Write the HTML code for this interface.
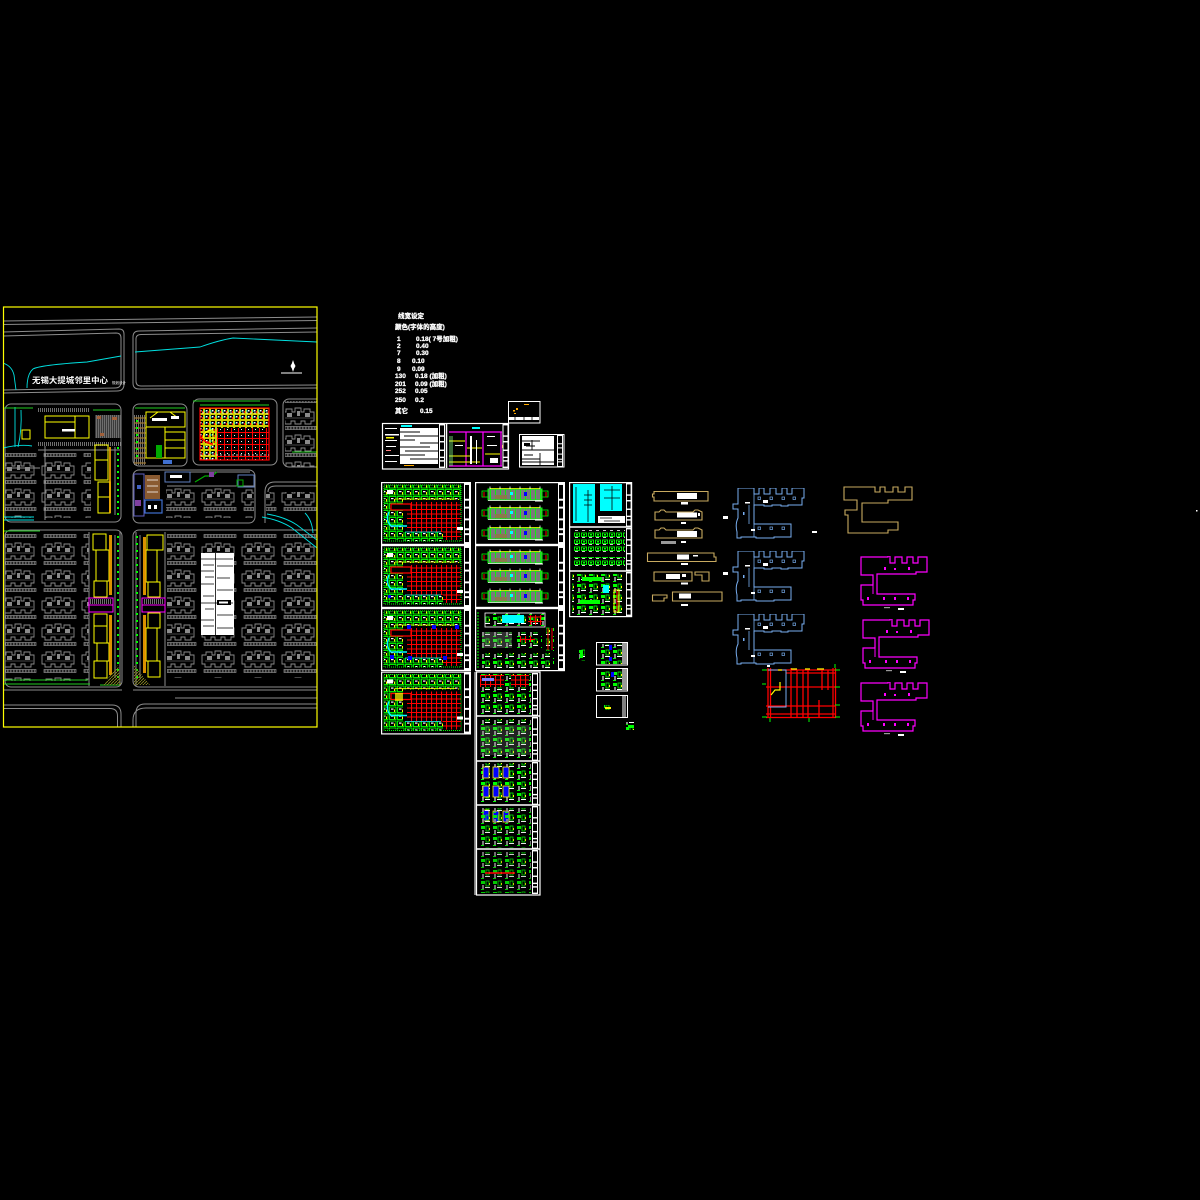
<!DOCTYPE html>
<html><head><meta charset="utf-8"><style>
html,body{margin:0;padding:0;background:#000;}
svg{display:block}
text{font-family:"Liberation Sans","Noto Sans CJK SC",sans-serif;}
</style></head><body>
<svg width="1200" height="1200" viewBox="0 0 1200 1200" xmlns="http://www.w3.org/2000/svg">
<defs>
<pattern id="bld" width="40" height="27" patternUnits="userSpaceOnUse">
 <path d="M2,7 h4 v-3 h6 v3 h3 v-4 h6 v4 h3 v-3 h6 v3 h4 v9 h-3 v3 h-6 v-3 h-4 v3 h-6 v-3 h-4 v3 h-6 v-3 h-3 z" fill="none" stroke="#8a8a8a" stroke-width="0.9"/>
 <rect x="7" y="8" width="5" height="4" fill="#8a8a8a"/>
 <rect x="17" y="6" width="3" height="5" fill="#8a8a8a"/>
 <rect x="25" y="8" width="5" height="4" fill="#8a8a8a"/>
 <line x1="5" y1="13" x2="33" y2="13" stroke="#8a8a8a" stroke-width="0.6"/>
 <rect x="4" y="21.5" width="32" height="3" fill="none" stroke="#8a8a8a" stroke-width="0.7"/>
 <line x1="4" y1="23" x2="36" y2="23" stroke="#8a8a8a" stroke-width="3" stroke-dasharray="0.7 0.8"/>
</pattern>
<pattern id="rooms" width="8" height="7" patternUnits="userSpaceOnUse">
 <rect x="0.5" y="0.5" width="6.5" height="5.5" fill="none" stroke="#00ff00" stroke-width="0.9"/>
 <rect x="2" y="2" width="2.5" height="1.2" fill="#ffffff"/>
 <rect x="5" y="3" width="1" height="2.5" fill="#ffff00"/>
</pattern>
<pattern id="redgrid" width="5" height="4.5" patternUnits="userSpaceOnUse">
 <path d="M0,0.5 H5 M0.5,0 V4.5" stroke="#ff0000" stroke-width="1.1"/>
</pattern>
<pattern id="vstripe" width="5" height="20" patternUnits="userSpaceOnUse">
 <rect x="0" y="0" width="0.9" height="20" fill="#00ff00"/>
</pattern>
<pattern id="detail" width="12" height="11" patternUnits="userSpaceOnUse">
 <rect x="1" y="1" width="4" height="3" fill="#00ff00"/>
 <rect x="6" y="1" width="3" height="5" fill="none" stroke="#00ff00" stroke-width="0.8"/>
 <rect x="2" y="5" width="2" height="4" fill="#8a8a8a"/>
 <rect x="5" y="7" width="5" height="1" fill="#ffffff"/>
 <rect x="9" y="3" width="1" height="2" fill="#ffff00"/>
 <rect x="1" y="9" width="3" height="1" fill="#00ff00"/>
</pattern>
<pattern id="mix" width="6" height="6" patternUnits="userSpaceOnUse">
 <rect x="0.5" y="0.5" width="5" height="5" fill="none" stroke="#ffff00" stroke-width="0.8"/>
 <rect x="2" y="2" width="1.5" height="1.5" fill="#fff"/>
 <path d="M0,3 H2" stroke="#00ffff" stroke-width="0.8"/>
 <rect x="4" y="3" width="1" height="2" fill="#ff0000"/>
</pattern>
<pattern id="colorful" width="7" height="6" patternUnits="userSpaceOnUse">
 <path d="M0,0.5 H7 M0.5,0 V6" stroke="#ff0000" stroke-width="1"/>
 <rect x="3" y="3" width="1" height="1" fill="#fff"/>
</pattern>
<pattern id="grnrow" width="7" height="7" patternUnits="userSpaceOnUse">
 <rect x="0.5" y="1" width="5" height="3.5" fill="none" stroke="#00ff00" stroke-width="0.9"/>
 <rect x="2" y="2" width="2" height="1.5" fill="#00ff00"/>
 <rect x="1" y="5" width="3" height="0.8" fill="#fff"/>
</pattern>
<pattern id="hatchg" width="2" height="4" patternUnits="userSpaceOnUse">
 <rect x="0" y="0" width="0.8" height="4" fill="#8a8a8a"/>
</pattern>
<pattern id="olive" width="3" height="3" patternUnits="userSpaceOnUse">
 <path d="M0,3 L3,0" stroke="#8a8a20" stroke-width="0.9"/>
</pattern>
<symbol id="ts" viewBox="0 0 6 62" preserveAspectRatio="none">
 <rect width="6" height="62" fill="#fff"/>
 <rect x="1" y="2" width="4" height="14" fill="#000"/>
 <rect x="1" y="18" width="4" height="6" fill="#000"/>
 <rect x="1" y="26" width="4" height="10" fill="#000"/>
 <rect x="1" y="38" width="4" height="8" fill="#000"/>
 <rect x="1" y="48" width="4" height="3" fill="#000"/>
 <rect x="1" y="53" width="4" height="7" fill="#000"/>
</symbol>
<symbol id="ps" viewBox="0 0 90 63">
 <rect x="0.6" y="0.6" width="88.8" height="61.8" fill="#000" stroke="#fff" stroke-width="1.2"/>
 <use href="#ts" x="83" y="1" width="6" height="61"/>
 <rect x="3" y="3" width="77" height="15" fill="url(#rooms)"/>
 <rect x="3" y="18" width="19" height="40" fill="url(#rooms)"/>
 <rect x="22" y="50" width="40" height="9" fill="url(#rooms)"/>
 <rect x="3" y="3" width="77" height="56" fill="none" stroke="#00ff00" stroke-width="1" stroke-dasharray="1 1"/>
 <rect x="26" y="20" width="54" height="30" fill="url(#redgrid)"/>
 <rect x="62" y="50" width="18" height="8" fill="url(#redgrid)"/>
 <path d="M10,22 H30 V28 H10 Z" fill="#000" stroke="#ff0000" stroke-width="1.2"/>
 <path d="M8,30 Q4,38 10,44 H26" fill="none" stroke="#00ffff" stroke-width="1.5"/>
 <path d="M14,17 H75" stroke="#ffff00" stroke-width="0.8"/>
 <path d="M24,50 H60" stroke="#00ffff" stroke-width="0.8"/>
 <rect x="6" y="8" width="6" height="4" fill="#fff"/>
 <rect x="76" y="45" width="6" height="3" fill="#fff"/>
</symbol>
<symbol id="elev" viewBox="0 0 70 16">
 <rect x="8" y="3" width="54" height="11" fill="#7a7a7a"/>
 <rect x="8" y="3" width="54" height="11" fill="url(#vstripe)"/>
 <rect x="8" y="3" width="54" height="11" fill="none" stroke="#00ff00" stroke-width="1"/>
 <path d="M10,2.5 H60" stroke="#ffff00" stroke-width="0.8"/>
 <path d="M10,0.5 V3 M20,0.5 V3 M30,0.5 V3 M40,0.5 V3 M50,0.5 V3 M60,0.5 V3" stroke="#fff" stroke-width="0.8"/>
 <rect x="2" y="5" width="6" height="6" fill="none" stroke="#00ff00" stroke-width="0.8"/>
 <rect x="62" y="5" width="6" height="6" fill="none" stroke="#00ff00" stroke-width="0.8"/>
 <path d="M4,6 V11 M66,6 V11" stroke="#ff0000" stroke-width="1"/>
 <rect x="15" y="9" width="12" height="4" fill="#8b7a4a"/>
 <rect x="30" y="6" width="3" height="3" fill="#00ffff"/>
 <rect x="44" y="6" width="3" height="4" fill="#0000ff"/>
 <path d="M8,14.5 H62" stroke="#fff" stroke-width="0.8"/>
 <rect x="55" y="14.5" width="8" height="1" fill="#fff"/>
</symbol>
<symbol id="es" viewBox="0 0 90 63">
 <rect x="0.6" y="0.6" width="88.8" height="61.8" fill="#000" stroke="#fff" stroke-width="1.2"/>
 <use href="#ts" x="83" y="1" width="6" height="61"/>
 <use href="#elev" x="5" y="4" width="70" height="16"/>
 <use href="#elev" x="5" y="23" width="70" height="16"/>
 <use href="#elev" x="5" y="43" width="70" height="16"/>
</symbol>
<symbol id="blue" viewBox="-4 0 74 52">
 <path d="M2,0 H18 V6 H23 V0 H28 V6 H34 V0 H40 V6 H46 V0 H51 V6 H56 V0 H68 V10 H66 V17 H52 V18 H45 V17 H36 V18 H28 V17 H18 V36 H55 V49 H38 V50 H20 V49 H5 V50 H1 V44 Q-1,36 2,30 V21 H-3 V16 H2 Z" fill="none" stroke="#78aef0" stroke-width="1"/>
 <path d="M18,0 V49 M13,17 V36" stroke="#78aef0" stroke-width="0.8"/>
 <g fill="none" stroke="#78aef0" stroke-width="0.7">
  <rect x="22" y="9" width="2.5" height="2.5"/><rect x="34" y="9" width="2.5" height="2.5"/><rect x="46" y="9" width="2.5" height="2.5"/><rect x="57" y="9" width="2.5" height="2.5"/>
  <rect x="22" y="39" width="2.5" height="2.5"/><rect x="34" y="39" width="2.5" height="2.5"/><rect x="46" y="39" width="2.5" height="2.5"/>
 </g>
 <rect x="7" y="24" width="1.5" height="3" fill="#78aef0"/>
 <rect x="27" y="12" width="5" height="3" fill="#fff"/>
 <rect x="9" y="14" width="5" height="1.5" fill="#fff"/>
 <rect x="15" y="41" width="4" height="2" fill="#fff"/>
</symbol>
<symbol id="mag" viewBox="0 0 70 55">
 <path d="M1,1 H28 V0 H30 V7 H35 V1 H42 V7 H47 V1 H53 V7 H58 V1 H67 V16 H56 V18 H17 V38 H55 V44 H53 V49 H3 V44 H1 V29 H13 V19 H1 Z" fill="none" stroke="#ff00ff" stroke-width="1.2"/>
 <path d="M13,19 V38" stroke="#ff00ff" stroke-width="1"/>
 <g fill="#ff00ff"><rect x="24" y="11" width="2" height="3"/><rect x="34" y="12" width="2" height="2"/><rect x="48" y="11" width="2" height="3"/>
 <rect x="7" y="41" width="2" height="3"/><rect x="23" y="41" width="2" height="3"/><rect x="34" y="41" width="2" height="3"/><rect x="47" y="41" width="2" height="3"/></g>
 <rect x="38" y="52" width="6" height="2" fill="#fff"/>
 <rect x="24" y="51" width="6" height="1.2" fill="#999"/>
</symbol>
<clipPath id="siteclip"><rect x="3" y="307" width="314" height="420"/></clipPath>
</defs>

<rect width="1200" height="1200" fill="#000"/>

<!-- ================= SITE PLAN ================= -->
<g clip-path="url(#siteclip)">
 <rect x="5" y="452" width="86" height="66" fill="url(#bld)"/>
 <rect x="5" y="533" width="84" height="148" fill="url(#bld)"/>
 <rect x="167" y="533" width="150" height="145" fill="url(#bld)"/>
 <rect x="285" y="401" width="32" height="66" fill="url(#bld)"/>
 <rect x="166" y="487" width="88" height="31" fill="url(#bld)"/>
 <rect x="266" y="492" width="51" height="22" fill="url(#bld)"/>
 <rect x="38" y="408" width="52" height="4" fill="url(#hatchg)"/>
 <rect x="38" y="442" width="84" height="4" fill="url(#hatchg)"/>

 <g fill="none" stroke="#8c8c8c" stroke-width="1">
  <path d="M3,321 L317,317"/>
  <path d="M3,324.5 L317,320.5"/>
  <path d="M3,332 L119,329 Q124,329 124,334 V384 Q124,391 117,391 L3,393"/>
  <path d="M3,336 L116,333 Q121,333 121,338 V382 Q121,388 115,388 L3,390"/>
  <path d="M317,328 L139,331 Q133,331 133,337 V383 Q133,389 139,389 L317,388"/>
  <path d="M317,332 L141,334.5 Q136,334.5 136,339 V381 Q136,386 141,386 L317,385"/>
  <rect x="5" y="404" width="116" height="118" rx="6"/>
  <rect x="133" y="404" width="54" height="62" rx="6"/>
  <rect x="193" y="399" width="84" height="66" rx="6"/>
  <rect x="283" y="399" width="44" height="68" rx="6"/>
  <rect x="133" y="470" width="122" height="53" rx="6"/>
  <path d="M265,523 V492 Q265,482 275,482 H317"/>
  <path d="M268,492 Q268,486 276,486 H317"/>
  <rect x="5" y="530" width="117" height="157" rx="6"/>
  <rect x="133" y="530" width="190" height="157" rx="6"/>
  <path d="M89,532 V686 M120,532 V686 M165,532 V686 M136,532 V686"/>
  <path d="M3,690 H122 M133,690 H317"/>
  <path d="M175,698 H317"/>
  <path d="M3,705 H112 Q121,705 121,714 V727"/>
  <path d="M3,708.5 H110 Q117.5,708.5 117.5,716 V727"/>
  <path d="M317,704 H145 Q136,704 136,713 V727"/>
  <path d="M317,708 H146 Q133,708 133,720 V727"/>
  <path d="M38,450 H120 M5,468 H40 M45,446 V520"/>
  <path d="M185,472 H250 M167,486 H255"/>
 </g>

 <g fill="none" stroke="#00e0e0" stroke-width="0.9">
  <path d="M3,363 Q12,366 14,375 L16,390"/>
  <path d="M27,388 Q27,374 33,369 Q40,365 87,362 L121,356"/>
  <path d="M135,352 L200,347 Q220,340 233,338 L317,342"/>
  <path d="M15,407 V447 M21,410 Q22,430 18,447"/>
  <path d="M3,448 Q20,444 32,446"/>
  <path d="M3,517 H34 M3,520 H34"/>
  <path d="M262,517 Q280,520 292,528 L317,548"/>
  <path d="M267,514 Q285,517 297,525 L317,540"/>
  <path d="M305,513 Q312,520 313,533"/>
 </g>
 <g fill="none" stroke="#22cc22" stroke-width="0.9">
  <path d="M3,408 H33 M93,410 H120 M135,408 H185 M193,401 H260 M200,405 H269"/>
  <path d="M3,680 H88 M3,684 H90 M100,685 H120"/>
  <path d="M3,531 H40 M292,452 H317"/>
 </g>

 <g fill="none" stroke="#ffff00" stroke-width="1">
  <rect x="45" y="416" width="44" height="22"/>
  <path d="M75,416 V438 M45,422 H75"/>
  <rect x="22" y="430" width="8" height="9"/>
 </g>
 <rect x="62" y="429" width="13" height="2.5" fill="#fff"/>
 <rect x="95" y="415" width="26" height="23" fill="#3a3a3a"/>
 <rect x="95" y="415" width="26" height="23" fill="url(#hatchg)" opacity="0.8"/>
 <rect x="97" y="416" width="4" height="3" fill="#a0603a"/>
 <rect x="112" y="417" width="5" height="3" fill="#a0603a"/>
 <rect x="100" y="433" width="4" height="3" fill="#a0603a"/>

 <g fill="none" stroke="#ffff00" stroke-width="1">
  <rect x="95" y="445" width="13" height="35"/>
  <rect x="98" y="482" width="12" height="31"/>
  <path d="M95,460 H108 M98,497 H110"/>
 </g>
 <rect x="109" y="447" width="2" height="66" fill="#ffaa00" opacity="0.8"/>
 <path d="M118,447 V515" stroke="#00ff00" stroke-width="2" stroke-dasharray="2 4"/>
 <path d="M115,447 V515" stroke="#8c8c8c" stroke-width="1"/>

 <rect x="133" y="415" width="12" height="50" fill="url(#hatchg)"/>
 <path d="M134,418 H146 M134,423 H146 M134,428 H146 M134,433 H146 M134,438 H146 M134,443 H146 M134,448 H146 M134,453 H146 M134,458 H146 M134,463 H146" stroke="#a07830" stroke-width="1.2"/>
 <g fill="none" stroke="#ffff00" stroke-width="1">
  <rect x="146" y="412" width="39" height="15"/>
  <rect x="146" y="427" width="19" height="31"/>
  <rect x="165" y="432" width="20" height="26"/>
  <path d="M150,418 L158,412 L170,412 L178,418 M165,440 H185 M165,448 H185"/>
 </g>
 <rect x="152" y="418" width="15" height="3" fill="#fff"/>
 <rect x="171" y="416" width="8" height="3" fill="#fff"/>
 <rect x="156" y="445" width="6" height="13" fill="#00aa00"/>
 <rect x="163" y="460" width="9" height="4" fill="#4070d0"/>
 <path d="M137,420 V462" stroke="#00ff00" stroke-width="2" stroke-dasharray="2 5"/>

 <rect x="200" y="408" width="69" height="20" fill="url(#mix)"/>
 <rect x="200" y="428" width="17" height="32" fill="url(#mix)"/>
 <rect x="217" y="428" width="52" height="32" fill="url(#colorful)"/>
 <rect x="200" y="408" width="69" height="52" fill="none" stroke="#ff0000" stroke-width="1.2"/>
 <path d="M203,440 Q203,430 213,430 V445 H205" fill="none" stroke="#ffff00" stroke-width="1.2"/>
 <path d="M200,455 H269 M202,413 H268" stroke="#fff" stroke-width="0.8" stroke-dasharray="2 2"/>
 <path d="M200,436 Q206,444 213,444" fill="none" stroke="#ff0000" stroke-width="1.6"/>

 <rect x="145" y="475" width="15" height="24" fill="#8a5a30"/>
 <path d="M147,480 H158 M147,486 H158 M147,492 H158" stroke="#fff" stroke-width="0.8"/>
 <rect x="134" y="474" width="10" height="42" fill="none" stroke="#6060c0" stroke-width="1"/>
 <rect x="135" y="500" width="6" height="6" fill="#8040a0"/>
 <rect x="137" y="485" width="4" height="4" fill="#4060c0"/>
 <rect x="145" y="500" width="17" height="13" fill="none" stroke="#4070d0" stroke-width="1.2"/>
 <rect x="148" y="505" width="3" height="4" fill="#fff"/><rect x="154" y="505" width="3" height="4" fill="#fff"/>
 <rect x="165" y="472" width="25" height="10" fill="none" stroke="#6080c0" stroke-width="1"/>
 <rect x="170" y="475" width="12" height="3" fill="#fff"/>
 <path d="M195,482 L205,476 L212,476 L217,472" fill="none" stroke="#00aa00" stroke-width="1.2"/>
 <rect x="209" y="472" width="5" height="5" fill="#8040a0"/>
 <rect x="238" y="475" width="16" height="12" fill="none" stroke="#6080c0" stroke-width="1"/>
 <rect x="237" y="480" width="6" height="6" fill="none" stroke="#00aa00" stroke-width="1"/>

 <g fill="none" stroke="#ffff00" stroke-width="1">
  <rect x="93" y="534" width="13" height="16"/>
  <rect x="96" y="550" width="13" height="31"/>
  <rect x="94" y="581" width="13" height="16"/>
  <rect x="94" y="614" width="13" height="12"/>
  <rect x="94" y="626" width="13" height="17"/>
  <rect x="97" y="643" width="12" height="18"/>
  <rect x="94" y="661" width="13" height="17"/>
 </g>
 <rect x="109" y="535" width="3" height="60" fill="#ffaa00" opacity="0.85"/>
 <rect x="109" y="615" width="3" height="60" fill="#ffaa00" opacity="0.85"/>
 <path d="M118,536 V678" stroke="#00ff00" stroke-width="2" stroke-dasharray="2 5"/>
 <path d="M115,535 V678" stroke="#8c8c8c" stroke-width="1"/>
 <g fill="none" stroke="#ffff00" stroke-width="1">
  <rect x="147" y="535" width="16" height="15"/>
  <rect x="146" y="550" width="11" height="32"/>
  <rect x="148" y="582" width="12" height="15"/>
  <rect x="148" y="613" width="12" height="15"/>
  <rect x="146" y="628" width="11" height="33"/>
  <rect x="148" y="661" width="12" height="16"/>
 </g>
 <rect x="143" y="537" width="3" height="58" fill="#ffaa00" opacity="0.85"/>
 <rect x="143" y="615" width="3" height="58" fill="#ffaa00" opacity="0.85"/>
 <path d="M137,536 V678" stroke="#00ff00" stroke-width="2" stroke-dasharray="2 5"/>
 <path d="M140,535 V678" stroke="#8c8c8c" stroke-width="1"/>
 <g fill="none" stroke="#ff00ff" stroke-width="1">
  <rect x="89" y="598" width="24" height="14"/>
  <path d="M89,605 H113"/>
  <rect x="142" y="598" width="23" height="14"/>
  <path d="M142,605 H165"/>
 </g>
 <rect x="90" y="599" width="22" height="5" fill="url(#hatchg)"/>
 <rect x="143" y="599" width="21" height="5" fill="url(#hatchg)"/>
 <path d="M103,685 L118,665 L121,685 Z" fill="url(#olive)"/>
 <path d="M134,665 L150,685 L134,685 Z" fill="url(#olive)"/>

 <rect x="201" y="553" width="33" height="82" fill="#fff"/>
 <g stroke="#000" stroke-width="0.8">
  <path d="M215.5,553 V635"/>
  <path d="M201,559 H233 M203,565 H214 M217,566 H233 M201,571 H214 M205,577 H214 M217,578 H230 M201,584 H214 M217,590 H233 M203,596 H214 M201,603 H233 M205,609 H214 M217,615 H233 M201,620 H214 M203,626 H214 M217,628 H233"/>
 </g>
 <rect x="217" y="600" width="14" height="5" fill="#000"/>
 <rect x="219" y="601.5" width="9" height="2" fill="#fff"/>

 <text x="32" y="383" font-size="8" font-weight="bold" fill="#fff" textLength="76" lengthAdjust="spacingAndGlyphs">无锡大提城邻里中心</text>
 <text x="112" y="384" font-size="3.5" fill="#fff">规划设计</text>
 <path d="M293,360 L295,366 L293,372 L291,366 Z" fill="#fff"/>
 <circle cx="293" cy="366" r="2" fill="none" stroke="#fff" stroke-width="0.7"/>
 <path d="M281,373 H302" stroke="#fff" stroke-width="1"/>
</g>
<rect x="3.5" y="307" width="313.5" height="420" fill="none" stroke="#ffff00" stroke-width="1.2"/>

<!-- ================= TEXT BLOCK ================= -->
<g fill="#fff" font-size="6.5" font-weight="bold" stroke="#fff" stroke-width="0.3">
 <text x="398" y="318">线宽设定</text>
 <text x="395" y="329">颜色(字体的高度)</text>
 <text x="397" y="341">1</text><text x="416" y="341">0.18( 7号加粗)</text>
 <text x="397" y="348">2</text><text x="416" y="348">0.40</text>
 <text x="397" y="355">7</text><text x="416" y="355">0.30</text>
 <text x="397" y="363">8</text><text x="412" y="363">0.10</text>
 <text x="397" y="371">9</text><text x="412" y="371">0.09</text>
 <text x="395" y="378">130</text><text x="415" y="378">0.18 (加粗)</text>
 <text x="395" y="386">201</text><text x="415" y="386">0.09 (加粗)</text>
 <text x="395" y="393">252</text><text x="415" y="393">0.05</text>
 <text x="395" y="402">250</text><text x="415" y="402">0.2</text>
 <text x="395" y="413">其它</text><text x="420" y="413">0.15</text>
</g>

<!-- ================= TOP SHEETS ================= -->
<rect x="508.5" y="401.5" width="31.5" height="21.5" fill="#000" stroke="#fff" stroke-width="1"/>
<rect x="513" y="410" width="2" height="1.5" fill="#ffaa00"/>
<rect x="516" y="408" width="2" height="2" fill="#ffaa00"/>
<rect x="524" y="404" width="5" height="1" fill="#ffaa00"/>
<rect x="514" y="413" width="2" height="1" fill="#ffaa00"/>
<rect x="509" y="417" width="30" height="3" fill="#fff"/>
<path d="M515,417 V420 M524,417 V420 M532,417 V420" stroke="#000" stroke-width="0.8"/>

<rect x="382.5" y="423.5" width="126" height="45.5" fill="#000" stroke="#fff" stroke-width="1.2"/>
<rect x="400" y="428" width="38" height="36" fill="#fff"/>
<g stroke="#000" stroke-width="0.9">
 <path d="M400,432 H420 M404,436 H438 M400,440 H415 M420,443 H438 M400,447 H430 M405,451 H438 M400,455 H425 M410,459 H438"/>
</g>
<rect x="401" y="425" width="11" height="2" fill="#00ffff"/>
<g fill="#fff"><rect x="385" y="428" width="12" height="1"/><rect x="385" y="434" width="14" height="1.5"/><rect x="385" y="440" width="12" height="1"/><rect x="386" y="446" width="10" height="1"/><rect x="385" y="455" width="14" height="1"/><rect x="385" y="461" width="12" height="1"/></g>
<rect x="386" y="437" width="8" height="1.5" fill="#ffff00"/>
<rect x="386" y="450" width="5" height="1" fill="#ff8080"/>
<rect x="404" y="465" width="10" height="1" fill="#ffaa00"/>
<use href="#ts" x="439" y="424" width="6" height="44"/>
<path d="M446.5,424 V468" stroke="#fff" stroke-width="1.5"/>
<g stroke="#ff00ff" stroke-width="1.2" fill="none">
 <path d="M449,432 H502 M466,432 V466 M483,432 V466 M501,432 V466 M449,466 H502"/>
</g>
<g stroke="#ffff00" stroke-width="1">
 <path d="M449,441 H465 M467,448 H482 M449,456 H470 M485,454 H500 M449,462 H480"/>
</g>
<path d="M450,436 V466 M452,436 V466" stroke="#88ff88" stroke-width="0.8"/>
<g fill="#fff"><rect x="470" y="436" width="2" height="28"/><rect x="476" y="440" width="1" height="24"/><rect x="487" y="436" width="8" height="1"/><rect x="487" y="445" width="10" height="1"/><rect x="490" y="458" width="8" height="5"/><rect x="455" y="445" width="8" height="1"/></g>
<rect x="472" y="427" width="8" height="2" fill="#00ffff"/>
<rect x="502" y="445" width="3" height="3" fill="#ffaa00"/>
<use href="#ts" x="502.5" y="424" width="6" height="44"/>

<rect x="519.5" y="434.5" width="44.5" height="32.5" fill="#000" stroke="#fff" stroke-width="1"/>
<rect x="522" y="436" width="32" height="29" fill="#fff"/>
<g stroke="#000" stroke-width="0.9"><path d="M522,441 H540 M526,446 H535 M522,450 H554 M524,455 H533 M522,459 H540 M532,440 V450 M540,453 V465 M522,462 H554"/></g>
<rect x="524" y="443" width="6" height="3" fill="#000"/>
<use href="#ts" x="557" y="435" width="6" height="32"/>

<!-- ================= COLUMN 1 ================= -->
<use href="#ps" x="381" y="482" width="90" height="63"/>
<use href="#ps" x="381" y="545" width="90" height="63"/>
<use href="#ps" x="381" y="608" width="90" height="63"/>
<use href="#ps" x="381" y="671" width="90" height="64"/>
<g fill="#0000ff">
 <rect x="407" y="625" width="4" height="4"/><rect x="432" y="625" width="4" height="4"/><rect x="455" y="625" width="4" height="4"/>
 <rect x="390" y="655" width="4" height="4"/><rect x="408" y="656" width="4" height="4"/><rect x="443" y="656" width="4" height="4"/>
 <rect x="388" y="595" width="3" height="3"/>
</g>
<rect x="395" y="693" width="8" height="8" fill="#ffff00" opacity="0.7"/>

<!-- ================= COLUMN 2 ================= -->
<use href="#es" x="475" y="482" width="90" height="63"/>
<use href="#es" x="475" y="545" width="90" height="63"/>
<rect x="475.6" y="608.6" width="88.8" height="62" fill="#000" stroke="#fff" stroke-width="1.2"/>
<use href="#ts" x="558" y="609" width="6" height="61"/>
<rect x="485" y="613" width="60" height="14" fill="url(#detail)"/>
<rect x="502" y="615" width="22" height="8" fill="#00ffff"/>
<rect x="485" y="613" width="60" height="14" fill="none" stroke="#fff" stroke-width="0.8"/>
<rect x="528" y="615" width="14" height="10" fill="url(#redgrid)"/>
<rect x="482" y="632" width="30" height="16" fill="url(#detail)"/>
<rect x="482" y="632" width="30" height="16" fill="#8a8a8a" opacity="0.35"/>
<rect x="515" y="632" width="27" height="16" fill="url(#detail)"/>
<rect x="520" y="636" width="15" height="6" fill="url(#redgrid)"/>
<rect x="546" y="627" width="8" height="24" fill="url(#detail)"/>
<path d="M548,628 V650 M552,628 V650" stroke="#ff0000" stroke-width="1"/>
<rect x="482" y="653" width="72" height="15" fill="url(#detail)"/>
<path d="M478,612 V668" stroke="#00ff00" stroke-width="1" stroke-dasharray="2 1"/>
<rect x="476.5" y="672" width="63.5" height="223" fill="#000" stroke="#fff" stroke-width="1.2"/>
<path d="M476,716 H540 M476,761 H540 M476,805 H540 M476,849 H540" stroke="#fff" stroke-width="1.5"/>
<use href="#ts" x="532" y="673" width="6" height="43"/>
<use href="#ts" x="532" y="717" width="6" height="44"/>
<use href="#ts" x="532" y="762" width="6" height="43"/>
<use href="#ts" x="532" y="806" width="6" height="43"/>
<use href="#ts" x="532" y="850" width="6" height="44"/>
<rect x="479" y="674" width="52" height="41" fill="url(#detail)"/>
<rect x="480" y="675" width="24" height="12" fill="#000"/>
<rect x="480" y="675" width="24" height="12" fill="url(#redgrid)"/>
<rect x="482" y="678" width="12" height="3" fill="#8080ff"/>
<rect x="511" y="675" width="18" height="12" fill="#000"/>
<rect x="511" y="675" width="18" height="12" fill="url(#redgrid)"/>
<rect x="479" y="719" width="52" height="40" fill="url(#detail)"/>
<rect x="480" y="725" width="50" height="30" fill="#8a8a8a" opacity="0.25"/>
<rect x="479" y="763" width="52" height="40" fill="url(#detail)"/>
<g fill="#0000ff" stroke="#ffff00" stroke-width="0.8">
 <rect x="483" y="767" width="6" height="11"/><rect x="493" y="767" width="6" height="11"/><rect x="503" y="767" width="6" height="11"/>
 <rect x="483" y="786" width="6" height="11"/><rect x="493" y="786" width="6" height="11"/><rect x="503" y="786" width="6" height="11"/>
 <rect x="483" y="810" width="6" height="11"/><rect x="493" y="811" width="6" height="11"/><rect x="503" y="811" width="6" height="11"/>
</g>
<rect x="479" y="808" width="52" height="40" fill="url(#detail)" opacity="0.9"/>
<rect x="479" y="852" width="52" height="41" fill="url(#detail)" opacity="0.8"/>
<path d="M485,873 H515" stroke="#ff0000" stroke-width="1.5"/>
<path d="M475,672 V895" stroke="#fff" stroke-width="1"/>

<!-- ================= COLUMN 3 ================= -->
<rect x="569.6" y="482.6" width="62" height="134" fill="#000" stroke="#fff" stroke-width="1.2"/>
<path d="M569,527 H632 M569,571 H632" stroke="#fff" stroke-width="1.5"/>
<use href="#ts" x="626" y="483" width="5.5" height="44"/>
<use href="#ts" x="626" y="528" width="5.5" height="43"/>
<use href="#ts" x="626" y="572" width="5.5" height="44"/>
<rect x="573" y="484" width="22" height="39" fill="#00ffff"/>
<rect x="600" y="484" width="22" height="27" fill="#00ffff"/>
<g stroke="#000" stroke-width="0.8"><path d="M576,487 V521 M588,490 V522 M584,495 H592 M584,500 H592 M584,505 H592 M612,486 V510 M604,490 H620 M604,498 H620"/></g>
<rect x="598" y="516" width="27" height="7" fill="#fff"/>
<path d="M600,518 H612 M604,521 H620" stroke="#000" stroke-width="0.8"/>
<rect x="573" y="530" width="52" height="22" fill="url(#grnrow)"/>
<rect x="573" y="557" width="52" height="10" fill="url(#grnrow)"/>
<rect x="572" y="574" width="53" height="41" fill="url(#detail)"/>
<rect x="582" y="577" width="20" height="4" fill="#00ff00"/>
<rect x="603" y="585" width="6" height="8" fill="#00ffff"/>
<rect x="614" y="590" width="5" height="22" fill="none" stroke="#ffff00" stroke-width="1"/>
<path d="M617,591 V611" stroke="#ff0000" stroke-width="1.2"/>
<rect x="580" y="600" width="20" height="4" fill="#00ff00"/>

<rect x="596.5" y="642.5" width="31" height="22.5" fill="#000" stroke="#fff" stroke-width="1"/>
<rect x="598" y="644" width="24" height="20" fill="url(#detail)"/>
<rect x="609" y="645" width="3" height="5" fill="#0000ff"/><rect x="609" y="657" width="3" height="4" fill="#0000ff"/>
<rect x="622" y="643" width="5" height="21" fill="#fff" opacity="0.6"/>
<rect x="596.5" y="668.5" width="31" height="22.5" fill="#000" stroke="#fff" stroke-width="1"/>
<rect x="598" y="670" width="24" height="20" fill="url(#detail)"/>
<rect x="611" y="672" width="3" height="5" fill="#0000ff"/>
<rect x="622" y="669" width="5" height="21" fill="#fff" opacity="0.6"/>
<rect x="596.5" y="695.5" width="31" height="22" fill="#000" stroke="#fff" stroke-width="1"/>
<rect x="604" y="705" width="9" height="5" fill="url(#detail)"/>
<rect x="605" y="707" width="6" height="2" fill="#ffff00"/>
<rect x="622" y="696" width="4" height="21" fill="#fff" opacity="0.5"/>
<rect x="579" y="648" width="6" height="13" fill="url(#detail)"/>
<rect x="580" y="650" width="3" height="8" fill="#00ff00"/>
<rect x="626" y="722" width="11" height="8" fill="url(#detail)"/>
<rect x="628" y="725" width="6" height="3" fill="#00ff00"/>

<!-- ================= RIGHT AREA ================= -->
<g fill="none" stroke="#c8aa60" stroke-width="1.1">
 <path d="M654,491.5 H708 V501 H654 V497 H652.5 V494 H654 Z"/>
 <path d="M655,512 H659 L661,510 H664 L666,512 H693 L695,510 H698 L702,512 V520 H655 Z"/>
 <path d="M655,530 H659 L661,528 H664 L666,530 H693 L695,528 H698 L702,530 V538 H655 Z"/>
 <path d="M647.5,553 H714 V557 H716 V561.5 H647.5 Z"/>
 <path d="M654,572 H692 V581 H654 Z"/>
 <path d="M695,572 H709 V581 H702 V575 H695 Z"/>
 <path d="M652.5,595 H667 V598 H664 V601 H652.5 Z"/>
 <path d="M672.5,592 H722 V601 H672.5 Z"/>
 <path d="M846,487 H875 V492 H880 V487 H885 V492 H893 V487 H898 V492 H905 V487 H912 V500 H888 V503 H862 V522 H898 V530 H888 V533 H848 V515 H845 V510 H857 V500 H844 V487 Z"/>
</g>
<g fill="#fff">
 <rect x="677" y="493" width="20" height="6"/><rect x="681" y="502" width="7" height="2.5"/>
 <rect x="677" y="512.5" width="20" height="5"/><rect x="698" y="513" width="2" height="3"/><rect x="681" y="522" width="5" height="2"/>
 <rect x="677" y="531" width="20" height="6"/><rect x="681" y="541" width="5" height="2"/>
 <rect x="677" y="554.5" width="12" height="5"/><rect x="693" y="555" width="5" height="1.5"/><rect x="681" y="563" width="7" height="2"/>
 <rect x="666" y="574" width="14" height="5"/><rect x="682" y="574" width="4" height="3"/><rect x="681" y="582.5" width="7" height="2"/>
 <rect x="679" y="593.5" width="12" height="5"/><rect x="681" y="604" width="7" height="2"/>
 <rect x="723" y="516" width="5" height="3"/><rect x="723" y="572" width="5" height="3"/>
 <rect x="812" y="531" width="5" height="2"/>
 <rect x="1196" y="510" width="1.5" height="1.5"/>
</g>
<rect x="661" y="541" width="15" height="3" fill="#999"/>

<use href="#blue" x="732" y="488" width="74" height="52"/>
<use href="#blue" x="732" y="551" width="74" height="52"/>
<use href="#blue" x="732" y="614" width="74" height="52"/>

<use href="#mag" x="860" y="556" width="70" height="55"/>
<use href="#mag" x="862" y="619" width="70" height="55"/>
<use href="#mag" x="860" y="682" width="70" height="55"/>

<g stroke="#ff0000" stroke-width="1.3" fill="none">
 <path d="M766,670 H836 M786,673 H836 M766,687 H836 M766,706 H836 M766,714 H836 M766,717.5 H836"/>
 <path d="M768,668 V718 M770.5,668 V718 M791,668 V718 M797,670 V718 M803,670 V718 M808,670 V718 M822,670 V690 M828,670 V690 M833,668 V718 M835.5,668 V718 M819,700 V718"/>
</g>
<path d="M768,670 H786 V707 H768" fill="none" stroke="#78aef0" stroke-width="1"/>
<path d="M778,670 H782 M791,669 H797 M805,669 H810 M817,669 H824 M771,695 L775,690 H780 V682" fill="none" stroke="#ffff00" stroke-width="1.2"/>
<g stroke="#00ff00" stroke-width="1">
 <path d="M762,670 H767 M835,670 H840 M762,684 H766 M835,687 H840 M762,717 H767 M835,717 H840 M835,705 H840 M770,718 V722 M835,664 V668 M809,718 V722"/>
</g>
<rect x="767" y="665" width="3" height="2" fill="#fff"/>
</svg>
</body></html>
